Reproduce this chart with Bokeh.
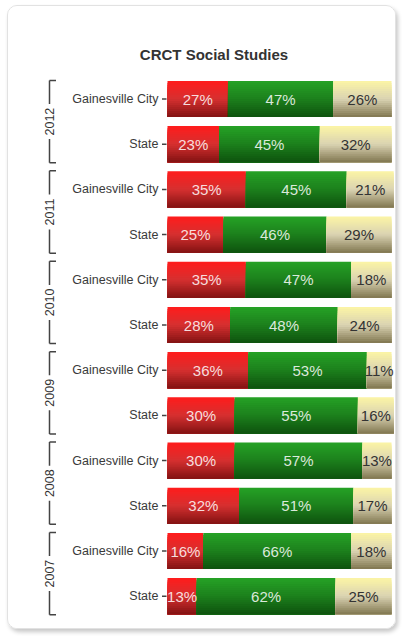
import numpy as np
from bokeh.plotting import figure
from bokeh.models import Range1d, ColumnDataSource
from bokeh.embed import file_html
from bokeh.resources import INLINE
from bokeh.core.properties import value

# ---------------- data ----------------
title_text = "CRCT Social Studies"
years = ["2012", "2011", "2010", "2009", "2008", "2007"]
groups = ["Gainesville City", "State"]
red_pct = [27, 23, 35, 25, 35, 28, 36, 30, 30, 32, 16, 13]
green_pct = [47, 45, 45, 46, 47, 48, 53, 55, 57, 51, 66, 62]
khaki_pct = [26, 32, 21, 29, 18, 24, 11, 16, 13, 17, 18, 25]

# ---------------- layout (pixels, page coordinates) ----------------
OX, OY = 8, 6               # page position of canvas origin
W, H = 389, 624
PX_PER_UNIT = 2.24          # horizontal pixels per percent
BAR0_PX = 167 - OX          # canvas x of 0 %
ROW0_PX = 98.5 - OY         # canvas y of first row centre
ROW_PX = 45.2               # pixels per row

x_start = -BAR0_PX / PX_PER_UNIT
x_end = (W - BAR0_PX) / PX_PER_UNIT
y_top = -ROW0_PX / ROW_PX
y_bot = (H - ROW0_PX) / ROW_PX

def xd(page_px):
    return (page_px - OX - BAR0_PX) / PX_PER_UNIT

def yd(page_px):
    return (page_px - OY - ROW0_PX) / ROW_PX

p = figure(width=W, height=H, x_range=Range1d(x_start, x_end),
           y_range=Range1d(y_bot, y_top), output_backend="svg",
           toolbar_location=None, min_border=0)
p.axis.visible = False
p.grid.visible = False
p.outline_line_color = None
p.background_fill_color = "white"
p.border_fill_color = "white"
p.styles = {"margin": "5px 0 0 7px", "border": "1px solid #e2e2e2",
            "border-radius": "10px",
            "box-shadow": "2px 3px 4px rgba(0,0,0,0.22)", "overflow": "hidden"}

n_rows = len(red_pct)
rows = np.arange(n_rows)

# gradient stops (top, middle, bottom)
stops = {
    "red": [(255, 28, 28), (214, 48, 48), (130, 18, 18)],
    "green": [(38, 162, 38), (28, 128, 28), (14, 82, 14)],
    "khaki": [(252, 245, 165), (218, 211, 178), (128, 118, 80)],
}

def grad(st, t):
    if t < 0.5:
        a, b, f = st[0], st[1], t / 0.5
    else:
        a, b, f = st[1], st[2], (t - 0.5) / 0.5
    c = [int(round(a[i] + (b[i] - a[i]) * f)) for i in range(3)]
    return "#%02x%02x%02x" % tuple(c)

BAR_H = 0.8
NS = 18
sl = BAR_H / NS

red = np.array(red_pct, float)
green = np.array(green_pct, float)
khaki = np.array(khaki_pct, float)
lefts = {"red": np.zeros(n_rows), "green": red, "khaki": red + green}
rights = {"red": red, "green": red + green, "khaki": red + green + khaki}

for key in ["red", "green", "khaki"]:
    ys, hs, ls, rs, cs = [], [], [], [], []
    for k in range(NS):
        t = (k + 0.5) / NS
        for i in rows:
            top = i - BAR_H / 2 + k * sl
            bot = i + BAR_H / 2
            ys.append((top + bot) / 2)
            hs.append(bot - top)
            ls.append(lefts[key][i])
            rs.append(rights[key][i])
            cs.append(grad(stops[key], t))
    src = ColumnDataSource(dict(y=ys, h=hs, left=ls, right=rs, color=cs))
    p.hbar(y="y", left="left", right="right", height="h", color="color",
           line_color=None, source=src)

# bar labels
FONT = value("Liberation Sans")
for key, vals, col, alpha in [("red", red_pct, "white", 0.85),
                              ("green", green_pct, "white", 0.85),
                              ("khaki", khaki_pct, "#333333", 1.0)]:
    src = ColumnDataSource(dict(
        x=(lefts[key] + rights[key]) / 2, y=rows,
        t=["%d%%" % v for v in vals]))
    p.text(x="x", y="y", text="t", source=src, text_font=FONT,
           text_font_size=value("15px"), text_color=col, text_alpha=alpha,
           text_align="center", text_baseline="middle")

# city labels and tick marks
cities = [groups[i % 2] for i in rows]
p.text(x=[xd(158)] * n_rows, y=rows, text=cities, text_font=FONT,
       text_font_size=value("12.5px"), text_color="#3a3a3a",
       text_align="right", text_baseline="middle")
p.segment(x0=[xd(161.5)] * n_rows, x1=[xd(166)] * n_rows, y0=rows, y1=rows,
          line_color="#444444", line_width=1.5)

# year brackets
xb, xt = xd(49), xd(55.5)
gap = 17.5 / ROW_PX
x0s, x1s, y0s, y1s = [], [], [], []
ycs = []
for g in range(len(years)):
    top = 2 * g - 0.41
    bot = 2 * g + 1 + 0.41
    yc = 2 * g + 0.5
    ycs.append(yc)
    x0s += [xb, xb, xb, xb]
    x1s += [xb, xb, xt, xt]
    y0s += [top, yc + gap, top, bot]
    y1s += [yc - gap, bot, top, bot]
p.segment(x0=x0s, x1=x1s, y0=y0s, y1=y1s, line_color="#444444", line_width=1.5)
p.text(x=[xb] * len(years), y=ycs, text=years, angle=np.pi / 2,
       text_font=FONT, text_font_size=value("12.5px"), text_color="#333333",
       text_align="center", text_baseline="middle")

# title
p.text(x=[xd(213.5)], y=[yd(53.5)], text=[title_text], text_font=FONT,
       text_font_size=value("15px"), text_font_style="bold",
       text_color="#333333", text_align="center", text_baseline="middle")

open("out.html", "w").write(file_html(p, INLINE))
